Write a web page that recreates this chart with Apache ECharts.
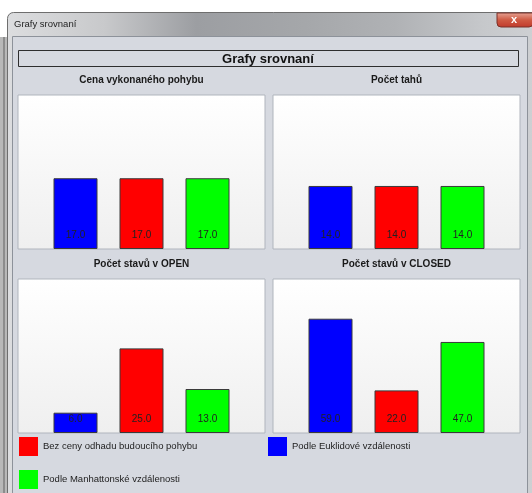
<!DOCTYPE html>
<html lang="cs">

<head>
    <meta charset="UTF-8">
    <title>Grafy srovnaní</title>
    <script src="https://cdn.jsdelivr.net/npm/echarts@6/dist/echarts.min.js"></script>
    <style>
        body {
            margin: 0;
            background: #ffffff;
        }

        #main {
            width: 532px;
            height: 493px;
        }
    </style>
</head>

<body>
<div id="main"></div>

<script>
    // data
    var chartTitles = ['Cena vykonaného pohybu', 'Počet tahů', 'Počet stavů v OPEN', 'Počet stavů v CLOSED'];
    var seriesNames = ['Podle Euklidové vzdálenosti', 'Bez ceny odhadu budoucího pohybu', 'Podle Manhattonské vzdálenosti'];
    var euklid = [17, 14, 6, 59];
    var bezCeny = [17, 14, 25, 22];
    var manhattan = [17, 14, 13, 47];
    var seriesValues = [euklid, bezCeny, manhattan];
    var seriesColors = ['#0000ff', '#ff0000', '#00ff00'];

    // rozlozeni 2x2
    var gridPos = [
        {left: 18, top: 95},
        {left: 273, top: 95},
        {left: 18, top: 279},
        {left: 273, top: 279}
    ];
    var axisMax = [37, 34.2, 45.5, 79.5];
    var font = 'Liberation Sans, Arial, sans-serif';

    var chart = echarts.init(document.getElementById('main'));

    var grids = [], xAxes = [], yAxes = [], series = [], titles = [];
    gridPos.forEach(function (p, i) {
        grids.push({
            left: p.left, top: p.top, width: 247, height: 154,
            show: true,
            z: 1,
            borderColor: '#b0b5bd',
            borderWidth: 1,
            backgroundColor: new echarts.graphic.LinearGradient(0, 0, 0, 1, [
                {offset: 0, color: '#ffffff'},
                {offset: 1, color: '#efefef'}
            ])
        });
        xAxes.push({type: 'category', gridIndex: i, data: [''], show: false});
        yAxes.push({type: 'value', gridIndex: i, min: 0, max: axisMax[i], show: false});
        titles.push({
            type: 'text',
            x: p.left + 123.5,
            y: p.top - 15,
            style: {
                text: chartTitles[i],
                font: 'bold 10px ' + font,
                fill: '#1a1a1a',
                textAlign: 'center',
                textVerticalAlign: 'middle'
            }
        });
        seriesNames.forEach(function (name, s) {
            series.push({
                name: name,
                type: 'bar',
                xAxisIndex: i,
                yAxisIndex: i,
                data: [seriesValues[s][i]],
                barWidth: 44,
                barGap: '50%',
                itemStyle: {color: seriesColors[s], borderColor: '#3a3a3a', borderWidth: 1},
                label: {
                    show: true,
                    position: 'insideBottom',
                    distance: 9,
                    formatter: function (v) { return v.value.toFixed(1); },
                    fontSize: 10,
                    fontFamily: font,
                    color: '#222222'
                }
            });
        });
    });

    // okno (ramecek, titulek) - kresleno pod grafy
    var chrome = [
        {type: 'rect', shape: {x: 0, y: 37, width: 8, height: 456}, style: {fill: '#b8b8b8'}},
        {type: 'rect', shape: {x: 3, y: 37, width: 2, height: 456}, style: {fill: '#8c8c8c'}},
        {
            type: 'rect', shape: {x: 7.5, y: 12.5, width: 540, height: 500, r: 6},
            style: {
                fill: new echarts.graphic.LinearGradient(0, 0, 1, 0, [
                    {offset: 0, color: '#dcdddf'},
                    {offset: 0.18, color: '#c8c9cb'},
                    {offset: 0.35, color: '#9c9ea2'},
                    {offset: 0.55, color: '#a5a7aa'},
                    {offset: 0.72, color: '#b0b2b5'},
                    {offset: 0.88, color: '#c6c8cb'},
                    {offset: 1, color: '#d0d2d5'}
                ]),
                stroke: '#6e6e6e', lineWidth: 1
            }
        },
        {
            type: 'rect', shape: {x: 12.5, y: 36.5, width: 515, height: 470},
            style: {fill: '#d6d9e0', stroke: '#8d929a', lineWidth: 1}
        },
        {
            type: 'text', x: 14, y: 24,
            style: {text: 'Grafy srovnaní', font: '9.5px ' + font, fill: '#1e1e1e', textVerticalAlign: 'middle'}
        },
        {
            type: 'rect', shape: {x: 497, y: 13, width: 36, height: 14, r: [0, 0, 4, 4]},
            style: {
                fill: new echarts.graphic.LinearGradient(0, 0, 0, 1, [
                    {offset: 0, color: '#e6a597'},
                    {offset: 0.5, color: '#cf5a43'},
                    {offset: 1, color: '#c0392b'}
                ]),
                stroke: '#7a3028', lineWidth: 1
            }
        },
        {
            type: 'text', x: 514, y: 20,
            style: {text: 'x', font: 'bold 11px ' + font, fill: '#ffffff', textAlign: 'center', textVerticalAlign: 'middle'}
        },
        {
            type: 'rect', shape: {x: 18.5, y: 50.5, width: 500, height: 16},
            style: {fill: '#d6d9e0', stroke: '#2e2e2e', lineWidth: 1}
        },
        {
            type: 'text', x: 268, y: 59,
            style: {text: 'Grafy srovnaní', font: 'bold 13px ' + font, fill: '#111111', textAlign: 'center', textVerticalAlign: 'middle'}
        }
    ];
    chrome.forEach(function (el) { el.z = -10; });

    function legendAt(name, left, top) {
        return {
            data: [name],
            left: left,
            top: top,
            padding: 0,
            icon: 'rect',
            itemWidth: 19,
            itemHeight: 19,
            itemStyle: {borderWidth: 0},
            textStyle: {fontSize: 9.5, fontFamily: font, color: '#222222', padding: [7, 0, 0, 0]}
        };
    }

    var option = {
        animation: false,
        backgroundColor: '#ffffff',
        graphic: chrome.concat(titles),
        legend: [
            legendAt(seriesNames[1], 19, 437),
            legendAt(seriesNames[0], 268, 437),
            legendAt(seriesNames[2], 19, 470)
        ],
        grid: grids,
        xAxis: xAxes,
        yAxis: yAxes,
        series: series
    };

    chart.setOption(option);
</script>
</body>

</html>
